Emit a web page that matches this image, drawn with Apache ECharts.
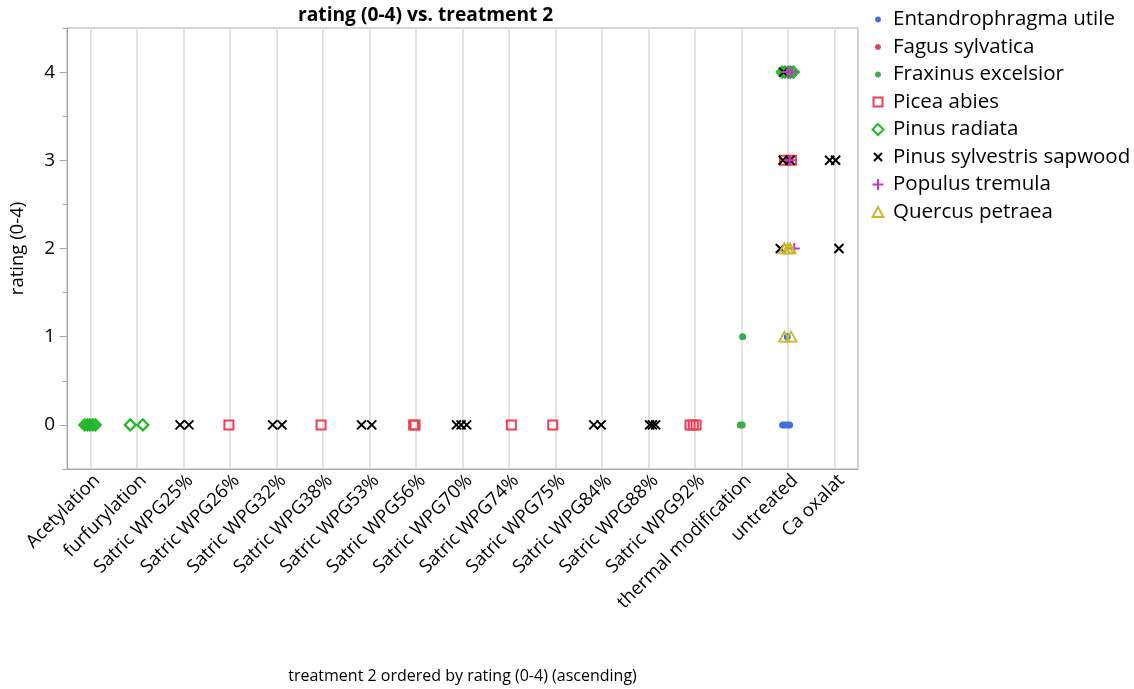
<!DOCTYPE html>
<html>
<head>
<meta charset="utf-8">
<script src="https://cdn.jsdelivr.net/npm/echarts@6/dist/echarts.min.js"></script>
<style>
  html, body { margin: 0; padding: 0; background: #fff; }
  #chart { width: 1134px; height: 689px; }
</style>
</head>
<body>
<div id="chart"></div>
<script>
// Treatments, in ascending order of rating
const categories = [
  'Acetylation', 'furfurylation', 'Satric WPG25%', 'Satric WPG26%', 'Satric WPG32%',
  'Satric WPG38%', 'Satric WPG53%', 'Satric WPG56%', 'Satric WPG70%', 'Satric WPG74%',
  'Satric WPG75%', 'Satric WPG84%', 'Satric WPG88%', 'Satric WPG92%',
  'thermal modification', 'untreated', 'Ca oxalat'
];
const yTicks = [0, 1, 2, 3, 4];

// Each point: [treatment, rating, jitter within the category band]
const entandrophragmaUtile = [
  ['untreated', 0, -0.12], ['untreated', 0, -0.07], ['untreated', 0, -0.01], ['untreated', 0, 0.03],
  ['untreated', 1, -0.02]
];
const fagusSylvatica = [
  ['untreated', 3, -0.04], ['untreated', 3, 0], ['untreated', 3, 0.04]
];
const fraxinusExcelsior = [
  ['thermal modification', 0, -0.03], ['thermal modification', 0, 0.01], ['thermal modification', 1, 0.02]
];
const piceaAbies = [
  ['Satric WPG26%', 0, -0.02], ['Satric WPG38%', 0, -0.04], ['Satric WPG56%', 0, -0.05],
  ['Satric WPG56%', 0, -0.02], ['Satric WPG74%', 0, 0.05], ['Satric WPG75%', 0, -0.06],
  ['Satric WPG92%', 0, -0.11], ['Satric WPG92%', 0, -0.04], ['Satric WPG92%', 0, 0.02],
  ['untreated', 3, -0.08], ['untreated', 3, 0.07]
];
const pinusRadiata = [
  ['Acetylation', 0, -0.12], ['Acetylation', 0, -0.06], ['Acetylation', 0, -0.01],
  ['Acetylation', 0, 0.05], ['Acetylation', 0, 0.11],
  ['furfurylation', 0, -0.14], ['furfurylation', 0, 0.13],
  ['untreated', 4, -0.13], ['untreated', 4, -0.07], ['untreated', 4, 0],
  ['untreated', 4, 0.05], ['untreated', 4, 0.11]
];
const pinusSylvestrisSapwood = [
  ['Satric WPG25%', 0, -0.07], ['Satric WPG25%', 0, 0.12],
  ['Satric WPG32%', 0, -0.08], ['Satric WPG32%', 0, 0.12],
  ['Satric WPG53%', 0, -0.17], ['Satric WPG53%', 0, 0.05],
  ['Satric WPG70%', 0, -0.13], ['Satric WPG70%', 0, -0.03], ['Satric WPG70%', 0, 0.09],
  ['Satric WPG84%', 0, -0.18], ['Satric WPG84%', 0, -0.02],
  ['Satric WPG88%', 0, 0.02], ['Satric WPG88%', 0, 0.08], ['Satric WPG88%', 0, 0.15],
  ['untreated', 2, -0.17], ['untreated', 3, -0.11], ['untreated', 3, 0.04], ['untreated', 4, -0.10],
  ['Ca oxalat', 3, -0.11], ['Ca oxalat', 3, 0.02], ['Ca oxalat', 2, 0.09]
];
const populusTremula = [
  ['untreated', 4, -0.02], ['untreated', 4, 0.07], ['untreated', 3, 0.03], ['untreated', 2, 0.13]
];
const quercusPetraea = [
  ['untreated', 2, -0.08], ['untreated', 2, -0.01], ['untreated', 2, 0.04],
  ['untreated', 1, -0.08], ['untreated', 1, 0.06]
];

const FONT = 'Open Sans';

// Marker shapes (legend icons padded so their drawn size follows the plot markers)
const CROSS = 'path://M0,0L10,10M10,0L0,10';
const PLUS = 'path://M5,0V10M0,5H10';
const ICON_DOT = 'path://M0,0M12,12M3,6C3,4.34 4.34,3 6,3C7.66,3 9,4.34 9,6C9,7.66 7.66,9 6,9C4.34,9 3,7.66 3,6Z';
const ICON_SQUARE = 'path://M0,0M12,12M1.5,1.5H10.5V10.5H1.5Z';
const ICON_DIAMOND = 'path://M0,0M12,12M6,0.5L11.5,6L6,11.5L0.5,6Z';
const ICON_CROSS = 'path://M0,0M12,12M2,2L10,10M10,2L2,10';
const ICON_PLUS = 'path://M0,0M12,12M6,0.5V11.5M0.5,6H11.5';
const ICON_TRIANGLE = 'path://M0,0M12,12M6,1L11.5,11L0.5,11Z';

const toPoints = rows => rows.map(([t, r, j]) => [categories.indexOf(t) + j, r]);

const speciesDefs = [
  { name: 'Entandrophragma utile', rows: entandrophragmaUtile, symbol: 'circle', size: 7, icon: ICON_DOT,
    style: { color: '#3f6fdf' } },
  { name: 'Fagus sylvatica', rows: fagusSylvatica, symbol: 'circle', size: 7, icon: ICON_DOT,
    style: { color: '#d9475a' } },
  { name: 'Fraxinus excelsior', rows: fraxinusExcelsior, symbol: 'circle', size: 7, icon: ICON_DOT,
    style: { color: '#3aab47' } },
  { name: 'Picea abies', rows: piceaAbies, symbol: 'rect', size: 9, icon: ICON_SQUARE,
    style: { color: 'rgba(0,0,0,0)', borderColor: '#ef3e55', borderWidth: 2 } },
  { name: 'Pinus radiata', rows: pinusRadiata, symbol: 'diamond', size: 11, icon: ICON_DIAMOND,
    style: { color: 'rgba(0,0,0,0)', borderColor: '#25b82a', borderWidth: 2.2 } },
  { name: 'Pinus sylvestris sapwood', rows: pinusSylvestrisSapwood, symbol: CROSS, size: 9, icon: ICON_CROSS,
    style: { color: 'rgba(0,0,0,0)', borderColor: '#000000', borderWidth: 2 } },
  { name: 'Populus tremula', rows: populusTremula, symbol: PLUS, size: 11, icon: ICON_PLUS,
    style: { color: 'rgba(0,0,0,0)', borderColor: '#cc33cc', borderWidth: 2 } },
  { name: 'Quercus petraea', rows: quercusPetraea, symbol: 'triangle', size: [11, 10], icon: ICON_TRIANGLE,
    style: { color: 'rgba(0,0,0,0)', borderColor: '#c8b92c', borderWidth: 1.8 } }
];

const AXIS_GREY = '#a8a8a8';

const chart = echarts.init(document.getElementById('chart'), null, { renderer: 'canvas' });

chart.setOption({
  animation: false,
  backgroundColor: '#ffffff',
  textStyle: { fontFamily: FONT },
  title: {
    text: 'rating (0-4) vs. treatment 2',
    left: 293,
    top: 1,
    textStyle: { fontFamily: FONT, fontWeight: 'bold', fontSize: 19.2, color: '#000' }
  },
  legend: {
    orient: 'vertical',
    left: 866,
    top: 4,
    itemWidth: 12,
    itemHeight: 12,
    itemGap: 6.5,
    textStyle: { fontFamily: FONT, fontSize: 20.5, color: '#000', padding: [0, 0, 0, 4] },
    data: speciesDefs.map(s => ({ name: s.name, icon: s.icon }))
  },
  grid: {
    left: 65, top: 28, width: 793, height: 443,
    show: true, borderColor: AXIS_GREY, borderWidth: 1, backgroundColor: 'transparent'
  },
  xAxis: {
    type: 'value',
    min: -0.5,
    max: 16.5,
    interval: 0.5,
    name: 'treatment 2 ordered by rating (0-4) (ascending)',
    nameLocation: 'middle',
    nameGap: 199,
    nameTextStyle: { fontFamily: FONT, fontSize: 16, color: '#000' },
    axisLine: { show: true, onZero: false, lineStyle: { color: AXIS_GREY, width: 1 } },
    axisTick: { show: false },
    axisLabel: {
      rotate: 45,
      margin: 2,
      verticalAlign: 'top',
      fontFamily: FONT,
      fontSize: 18.5,
      color: '#000',
      showMinLabel: true,
      showMaxLabel: true,
      formatter: v => (Number.isInteger(v) ? categories[v] : '')
    },
    splitLine: {
      show: true,
      lineStyle: { color: ['rgba(0,0,0,0)', '#d9d9d9'], width: 1.5 }
    }
  },
  yAxis: [
    {
      type: 'value',
      min: -0.5,
      max: 4.5,
      interval: 0.5,
      name: 'rating (0-4)',
      nameLocation: 'middle',
      nameGap: 40,
      nameTextStyle: { fontFamily: FONT, fontSize: 18.5, color: '#000' },
      axisLine: { show: true, onZero: false, lineStyle: { color: AXIS_GREY, width: 1 } },
      axisTick: { show: true, length: 4.5, lineStyle: { color: AXIS_GREY } },
      axisLabel: {
        margin: 12,
        fontFamily: FONT,
        fontSize: 19,
        color: '#000',
        formatter: v => (yTicks.includes(v) ? String(v) : '')
      },
      splitLine: { show: false }
    },
    {
      type: 'value',
      min: -0.5,
      max: 4.5,
      position: 'left',
      axisLine: { show: false, onZero: false },
      axisTick: { show: true, length: 7.5, customValues: yTicks, lineStyle: { color: AXIS_GREY } },
      axisLabel: { show: false },
      splitLine: { show: false }
    }
  ],
  series: speciesDefs.map(s => ({
    name: s.name,
    type: 'scatter',
    symbol: s.symbol,
    symbolSize: s.size,
    itemStyle: Object.assign({ opacity: 1 }, s.style),
    emphasis: { disabled: true },
    data: toPoints(s.rows)
  }))
});
</script>
</body>
</html>
